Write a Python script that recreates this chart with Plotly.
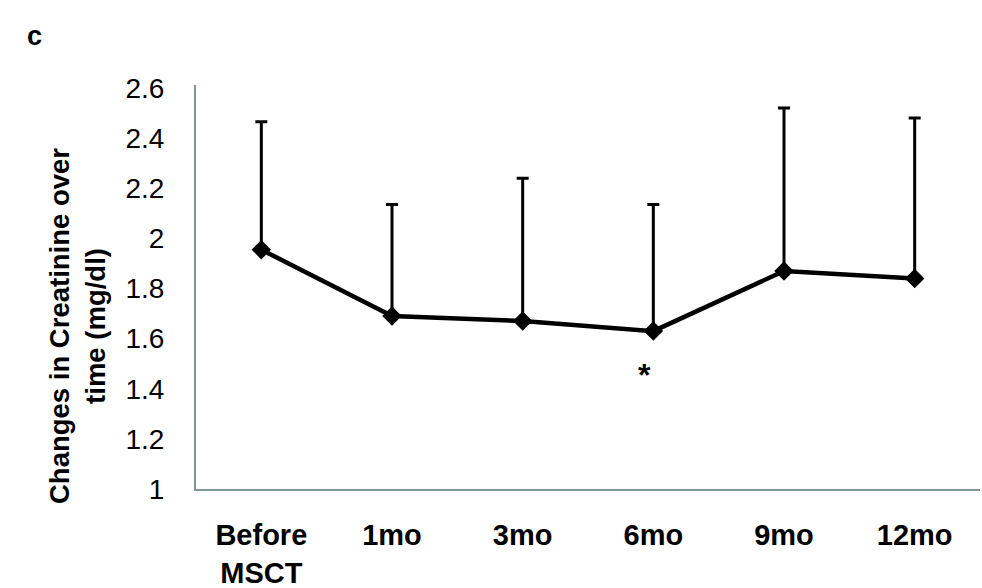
import plotly.graph_objects as go

categories = ["Before<br>MSCT", "1mo", "3mo", "6mo", "9mo", "12mo"]
means = [1.955, 1.69, 1.67, 1.63, 1.87, 1.84]
sd_upper = [0.51, 0.445, 0.57, 0.505, 0.65, 0.64]
y_ticks = [1, 1.2, 1.4, 1.6, 1.8, 2, 2.2, 2.4, 2.6]
y_tick_labels = ["1", "1.2", "1.4", "1.6", "1.8", "2", "2.2", "2.4", "2.6"]
sig_category = "6mo"
sig_label = "*"
sig_y = 1.455
panel_label = "c"
y_title = "Changes in Creatinine over<br>time (mg/dl)"

FONT = "Arial, Liberation Sans, sans-serif"
x_idx = list(range(len(categories)))

L, R, T, B = 196, 2, 85, 99
PW, PH = 982 - L - R, 588 - T - B

def px_x(x):
    return (x - L) / PW

def px_y(y):
    return 1 - (y - T) / PH

fig = go.Figure()
fig.add_trace(go.Scatter(
    x=x_idx, y=means, mode="lines+markers",
    line=dict(color="black", width=4.5),
    marker=dict(symbol="diamond", size=15, color="black"),
    error_y=dict(type="data", symmetric=False, array=sd_upper,
                 arrayminus=[0] * len(means), color="black",
                 thickness=3, width=6),
    showlegend=False,
))

fig.add_annotation(x=categories.index(sig_category) - 0.07, y=sig_y, text="<b>" + sig_label + "</b>",
                   showarrow=False, font=dict(family=FONT, size=32, color="black"),
                   xref="x", yref="y")
fig.add_annotation(x=px_x(34), y=px_y(36), xref="paper", yref="paper",
                   text="<b>" + panel_label + "</b>", showarrow=False,
                   xanchor="center", yanchor="middle",
                   font=dict(family=FONT, size=27, color="black"))
fig.add_annotation(x=px_x(77), y=px_y(326), xref="paper", yref="paper",
                   text="<b>" + y_title.replace("<br>", "</b><br><b>") + "</b>",
                   showarrow=False, textangle=-90, xanchor="center", yanchor="middle",
                   font=dict(family=FONT, size=27.5, color="black"))

fig.update_layout(
    width=982, height=588,
    margin=dict(l=L, r=R, t=T, b=B, autoexpand=False),
    paper_bgcolor="white", plot_bgcolor="white",
    font=dict(family=FONT, color="black"),
)

fig.update_xaxes(
    tickmode="array", tickvals=x_idx,
    ticktext=["<b>" + c.replace("<br>", "</b><br><b>") + "</b>" for c in categories],
    range=[-0.5, 5.5], showline=True, linecolor="#7f9499", linewidth=2,
    showgrid=False, zeroline=False, ticks="", tickfont=dict(family=FONT, size=29, color="black"),
    ticklabelstandoff=19, automargin=False,
)
fig.update_yaxes(
    tickmode="array", tickvals=y_ticks, ticktext=y_tick_labels,
    range=[1, 1 + PH / 250.6], showline=True, linecolor="#7f9499", linewidth=2,
    showgrid=False, zeroline=False, ticks="", tickfont=dict(family=FONT, size=28, color="black"),
    ticklabelstandoff=24, automargin=False,
)

fig.write_html("out.html")
